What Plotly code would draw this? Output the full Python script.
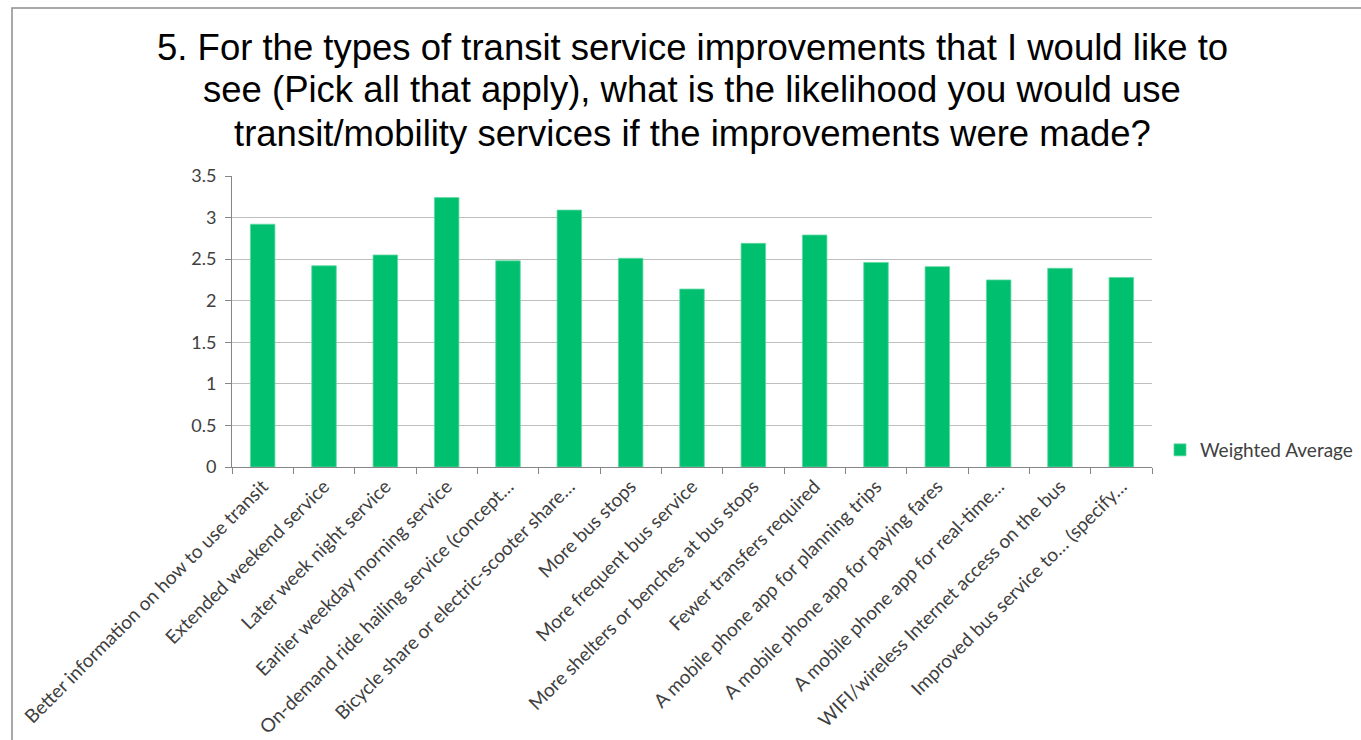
import plotly.graph_objects as go

# Survey question 5: likelihood of using transit if each improvement were made
categories = [
    "Better information on how to use transit",
    "Extended weekend service",
    "Later week night service",
    "Earlier weekday morning service",
    "On-demand ride hailing service (concept…",
    "Bicycle share or electric-scooter share…",
    "More bus stops",
    "More frequent bus service",
    "More shelters or benches at bus stops",
    "Fewer transfers required",
    "A mobile phone app for planning trips",
    "A mobile phone app for paying fares",
    "A mobile phone app for real-time…",
    "WIFI/wireless Internet access on the bus",
    "Improved bus service to… (specify…",
]
weighted_average = [2.92, 2.42, 2.55, 3.24, 2.48, 3.09, 2.51, 2.14,
                    2.69, 2.79, 2.46, 2.41, 2.25, 2.39, 2.28]
series_name = "Weighted Average"

title_lines = [
    "5. For the types of transit service improvements that I would like to",
    "see (Pick all that apply), what is the likelihood you would use",
    "transit/mobility services if the improvements were made?",
]

W, H = 1361, 740
ML, MR, MT, MB = 232, 209, 176, 273
PW, PH = W - ML - MR, H - MT - MB


def px_x(px):
    return (px - ML) / PW


def px_y(py):
    return (H - MB - py) / PH


GREEN = "#00BF6F"
TEXT = "#404040"
AXIS = "#868686"
GRID = "#BEBEBE"

fig = go.Figure()
fig.add_trace(go.Bar(
    x=categories,
    y=weighted_average,
    name=series_name,
    marker=dict(color=GREEN, line=dict(color="#5FD9A2", width=0.8)),
    showlegend=True,
))

annotations = []
for i, line in enumerate(title_lines):
    annotations.append(dict(
        text=line, xref="paper", yref="paper",
        x=px_x(692), y=px_y(47 + 43 * i),
        xanchor="center", yanchor="middle", showarrow=False,
        font=dict(family="Liberation Sans, Arial, sans-serif", size=36.5, color="#000000"),
    ))

fig.update_layout(
    width=W, height=H,
    margin=dict(l=ML, r=MR, t=MT, b=MB, autoexpand=False),
    paper_bgcolor="white", plot_bgcolor="white",
    bargap=0.6,
    annotations=annotations,
    shapes=[dict(
        type="rect", xref="paper", yref="paper",
        x0=px_x(12), x1=px_x(1380), y0=px_y(760), y1=px_y(8),
        line=dict(color="#8C8C8C", width=1.5), fillcolor="rgba(0,0,0,0)", layer="below",
    )],
    legend=dict(
        x=px_x(1160), y=px_y(450), xanchor="left", yanchor="middle",
        font=dict(family="Lato, sans-serif", size=19, color=TEXT),
        bgcolor="rgba(0,0,0,0)", itemwidth=30,
    ),
    xaxis=dict(
        type="category", tickangle=-45, automargin=False,
        tickfont=dict(family="Lato, sans-serif", size=19, color=TEXT),
        showline=True, linecolor=AXIS, linewidth=1,
        ticks="outside", ticklen=6, tickcolor=AXIS, tickson="boundaries",
        showgrid=False,
    ),
    yaxis=dict(
        range=[0, 3.5], dtick=0.5, automargin=False,
        tickfont=dict(family="Lato, sans-serif", size=18, color=TEXT),
        ticklabelstandoff=5,
        showline=True, linecolor=AXIS, linewidth=1,
        ticks="outside", ticklen=6, tickcolor=AXIS,
        showgrid=True, gridcolor=GRID, gridwidth=1.3, zeroline=False,
    ),
)

fig.write_html("out.html")
